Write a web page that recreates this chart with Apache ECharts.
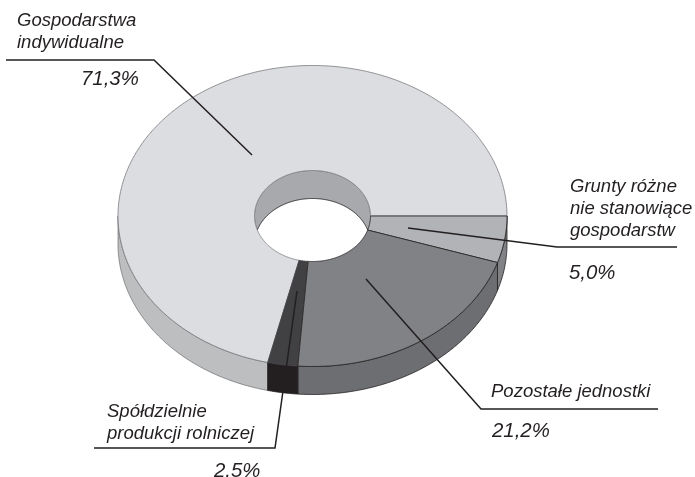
<!DOCTYPE html>
<html><head><meta charset="utf-8">
<style>html,body{margin:0;padding:0;background:#fff}#c{width:695px;height:477px}</style>
<script src="https://cdn.jsdelivr.net/npm/echarts@6/dist/echarts.min.js"></script>
</head><body><div id="c"></div>
<script>
const categories = ['Grunty różne nie stanowiące gospodarstw','Pozostałe jednostki','Spółdzielnie produkcji rolniczej','Gospodarstwa indywidualne'];
const shares = [5.0,21.2,2.5,71.3];
const topColors = ['#b1b3b6','#808285','#414042','#dcdde0'];
const sideColors = ['#808285','#6d6e71','#231f20','#bcbec0'];
const edgeColors = ['#231f20','#231f20','#414042','#77787b'];

const CX=312.5, CY=216, RX=194.5, RY=150.5, IRX=58, IRY=45.5, DEPTH=28;
const total = shares.reduce((a,b)=>a+b,0);
const starts=[]; shares.reduce((acc,v,i)=>{starts[i]=acc;return acc+v;},0);
const ang=v=>v/total*2*Math.PI;
function arc(rx,ry,a0,a1,dy){
  const n=Math.max(2,Math.ceil(Math.abs(a1-a0)/0.01)),p=[];
  for(let i=0;i<=n;i++){const t=a0+(a1-a0)*i/n;p.push([CX+rx*Math.cos(t),CY+dy+ry*Math.sin(t)]);}
  return p;
}
function renderSide(params,api){
  const i=params.dataIndex, a0=ang(starts[i]), a1=Math.min(Math.PI,ang(starts[i]+api.value(0)));
  if(a0>=Math.PI) return null;
  const pts=arc(RX,RY,a0,a1,0).concat(arc(RX,RY,a1,a0,DEPTH));
  return {type:'polygon',shape:{points:pts},z2:i===3?1:2,
    style:{fill:sideColors[i],stroke:i===3?'#58595b':'#231f20',lineWidth:i===3?0.6:0.8}};
}
function renderTop(params,api){
  const i=params.dataIndex, a0=ang(starts[i]), a1=ang(starts[i]+api.value(0));
  const pts=arc(RX,RY,a0,a1,0).concat(arc(IRX,IRY,a1,a0,0));
  return {type:'polygon',shape:{points:pts},z2:i===3?1:(i===2?2:3),
    style:{fill:topColors[i],stroke:edgeColors[i],lineWidth:0.8}};
}
function renderWall(){
  const s=Math.asin(DEPTH/2/IRY);
  const a0=Math.PI-s, a1=2*Math.PI+s;
  const upper=arc(IRX,IRY,a0,a1,0);
  const lower=arc(IRX,IRY,-s+2*Math.PI,Math.PI+s,DEPTH);
  return {type:'group',children:[
    {type:'polygon',shape:{points:upper.concat(lower)},style:{fill:'#a7a9ac',stroke:null}},
    {type:'polyline',shape:{points:upper},style:{fill:null,stroke:'#77787b',lineWidth:0.8}},
    {type:'polyline',shape:{points:lower},style:{fill:null,stroke:'#231f20',lineWidth:0.9}}
  ]};
}
const dataItems=categories.map((n,i)=>({name:n,value:shares[i]}));
const leaders=[
 [[6,60],[154,60],[252,155]],
 [[408,228],[557,247],[677,247]],
 [[366,279],[481,409],[658,409]],
 [[297,291],[275,448],[94,448]]
];
const labels=[
 {x:17,y:10,text:'Gospodarstwa\nindywidualne',size:18.5},
 {x:81,y:68,text:'71,3%',size:20.4},
 {x:570,y:176,text:'Grunty różne\nnie stanowiące\ngospodarstw',size:18.5},
 {x:569,y:262,text:'5,0%',size:20.4},
 {x:491,y:381,text:'Pozostałe jednostki',size:18.5},
 {x:492,y:420,text:'21,2%',size:20.4},
 {x:107,y:401,text:'Spółdzielnie\nprodukcji rolniczej',size:18.5},
 {x:214,y:460,text:'2.5%',size:20.4}
];
const chart=echarts.init(document.getElementById('c'),null,{renderer:'canvas'});
chart.setOption({
 animation:false,backgroundColor:'#fff',
 series:[
  {type:'custom',coordinateSystem:'none',data:dataItems,renderItem:renderSide,z:1,silent:true},
  {type:'custom',coordinateSystem:'none',data:[1],renderItem:renderWall,z:2,silent:true},
  {type:'custom',coordinateSystem:'none',data:dataItems,renderItem:renderTop,z:3,silent:true}
 ],
 graphic:{elements:[
  ...leaders.map(p=>({type:'polyline',z:10,shape:{points:p},style:{fill:null,stroke:'#231f20',lineWidth:1.5}})),
  ...labels.map(l=>({type:'text',z:11,x:l.x,y:l.y,style:{text:l.text,fill:'#231f20',
     fontFamily:'"Liberation Sans"',fontStyle:'italic',fontSize:l.size,lineHeight:22,verticalAlign:'top'}}))
 ]}
});
</script></body></html>
